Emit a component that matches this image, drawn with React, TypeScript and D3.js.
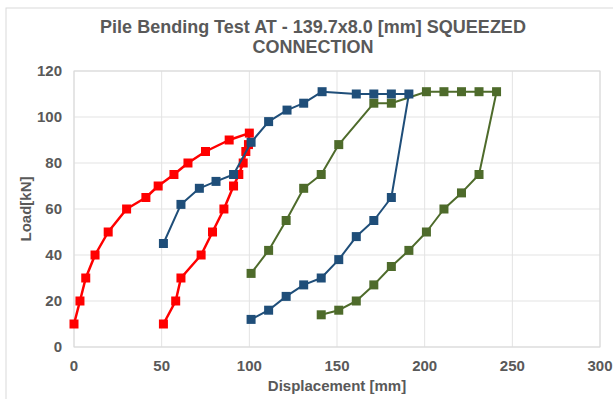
import * as d3 from "d3";

// load-displacement loops
const redX = [0, 3.4, 6.7, 12, 19.5, 30, 41, 48, 57, 65, 75, 88.5, 100, 99.5, 98, 96.5, 94, 91, 85.5, 79, 72.5, 61, 58, 51];
const redY = [10, 20, 30, 40, 50, 60, 65, 70, 75, 80, 85, 90, 93, 88, 85, 80, 75, 70, 60, 50, 40, 30, 20, 10];

const blueX = [51, 61, 71.5, 81, 91, 101, 111, 121.5, 131, 141.5, 161, 171, 181, 191, 181, 171, 161, 151, 141, 131, 121, 111, 101];
const blueY = [45, 62, 69, 72, 75, 89, 98, 103, 106, 111, 110, 110, 110, 110, 65, 55, 48, 38, 30, 27, 22, 16, 12];

const greenX = [101, 111, 121, 131, 141, 151, 171, 181, 201, 211, 221, 231, 241, 231, 221, 211, 201, 191, 181, 171, 161, 151, 141];
const greenY = [32, 42, 55, 69, 75, 88, 106, 106, 111, 111, 111, 111, 111, 75, 67, 60, 50, 42, 35, 27, 20, 16, 14];

const xTicks = [0, 50, 100, 150, 200, 250, 300];
const yTicks = [0, 20, 40, 60, 80, 100, 120];

const titleLines = ["Pile Bending Test AT - 139.7x8.0 [mm] SQUEEZED", "CONNECTION"];

const W = 613,
  H = 399;
const plot = { left: 74, top: 71, right: 600, bottom: 347 };
const font = "'Liberation Sans', Arial, sans-serif";
const textColor = "#595959";

export default function App() {
  const x = d3.scaleLinear().domain([0, 300]).range([plot.left, plot.right]);
  const y = d3.scaleLinear().domain([0, 120]).range([plot.bottom, plot.top]);

  const series = [
    { xs: redX, ys: redY, color: "#FF0000", width: 2.5 },
    { xs: greenX, ys: greenY, color: "#4E6B2B", width: 2 },
    { xs: blueX, ys: blueY, color: "#1F4E79", width: 2 },
  ];

  const line = d3
    .line<[number, number]>()
    .x((d) => x(d[0]))
    .y((d) => y(d[1]));

  const plotMid = (plot.left + plot.right) / 2;

  return (
    <svg
      width={W}
      height={H}
      style={{ position: "absolute", left: 0, top: 0, background: "#fff" }}
      fontFamily={font}
    >
      <rect x={6} y={8} width={W + 10} height={H + 10} fill="#fff" stroke="#d9d9d9" strokeWidth={1} />

      {/* grid */}
      {yTicks.map((t) => (
        <line key={"gy" + t} x1={plot.left} x2={plot.right} y1={y(t)} y2={y(t)} stroke="#e3e3e3" strokeWidth={1} />
      ))}
      {xTicks.map((t) => (
        <line key={"gx" + t} x1={x(t)} x2={x(t)} y1={plot.top} y2={plot.bottom} stroke="#e3e3e3" strokeWidth={1} />
      ))}
      <rect
        x={plot.left}
        y={plot.top}
        width={plot.right - plot.left}
        height={plot.bottom - plot.top}
        fill="none"
        stroke="#d9d9d9"
        strokeWidth={1}
      />

      {/* tick labels */}
      {yTicks.map((t) => (
        <text
          key={"ty" + t}
          x={plot.left - 12}
          y={y(t)}
          dy="0.36em"
          textAnchor="end"
          fontSize={15}
          fontWeight="bold"
          fill={textColor}
        >
          {t}
        </text>
      ))}
      {xTicks.map((t) => (
        <text
          key={"tx" + t}
          x={x(t)}
          y={plot.bottom + 19}
          dy="0.36em"
          textAnchor="middle"
          fontSize={15}
          fontWeight="bold"
          fill={textColor}
        >
          {t}
        </text>
      ))}

      {/* series */}
      {series.map((s, i) => {
        const pts = s.xs.map((v, j) => [v, s.ys[j]] as [number, number]);
        return (
          <g key={"s" + i}>
            <path d={line(pts) || ""} fill="none" stroke={s.color} strokeWidth={s.width} strokeLinejoin="round" />
            {pts.map((p, j) => (
              <rect key={j} x={x(p[0]) - 4.5} y={y(p[1]) - 4.5} width={9} height={9} fill={s.color} />
            ))}
          </g>
        );
      })}

      {/* title */}
      {titleLines.map((t, i) => (
        <text
          key={"tt" + i}
          x={313}
          y={33 + i * 20}
          textAnchor="middle"
          fontSize={18}
          fontWeight="bold"
          fill={textColor}
        >
          {t}
        </text>
      ))}

      {/* axis titles */}
      <text x={plotMid} y={391} textAnchor="middle" fontSize={15} fontWeight="bold" fill={textColor}>
        Displacement [mm]
      </text>
      <text
        transform={`translate(31, ${(plot.top + plot.bottom) / 2}) rotate(-90)`}
        textAnchor="middle"
        fontSize={15}
        fontWeight="bold"
        fill={textColor}
      >
        Load[kN]
      </text>
    </svg>
  );
}
